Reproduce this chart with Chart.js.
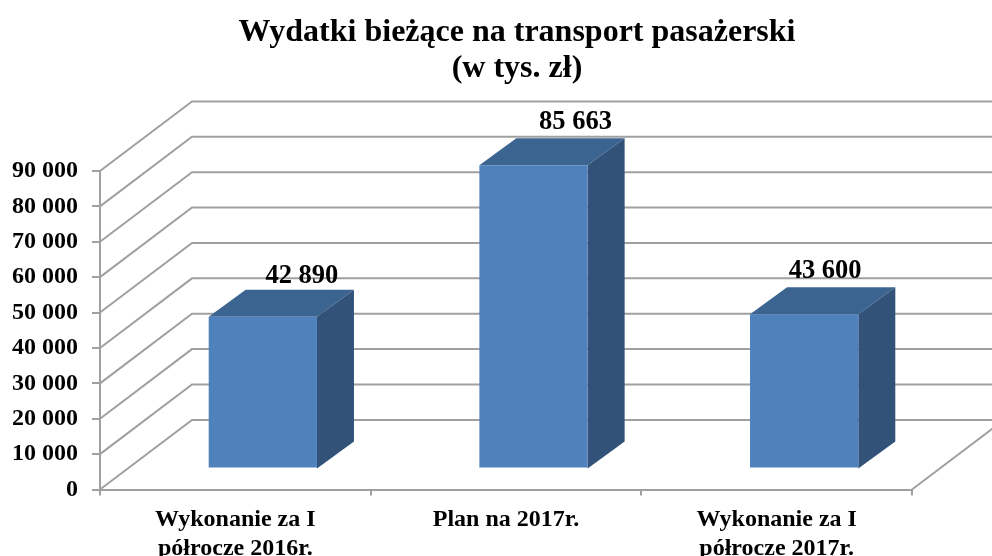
<!DOCTYPE html>
<html><head><meta charset="utf-8">
<style>html,body{margin:0;padding:0;background:#fff}#wrap{width:992px;height:556px}</style>
<script src="https://cdn.jsdelivr.net/npm/chart.js@4"></script></head>
<body><div id="wrap"><canvas id="c" width="992" height="556"></canvas></div>
<script>
const categories = [["Wykonanie za I","półrocze 2016r."],"Plan na 2017r.",["Wykonanie za I","półrocze 2017r."]];
const values = [42890, 85663, 43600];
const valueLabels = ["42 890","85 663","43 600"];
const tickLabels = ["0","10 000","20 000","30 000","40 000","50 000","60 000","70 000","80 000","90 000"];
const titleLines = ["Wydatki bieżące na transport pasażerski","(w tys. zł)"];

const SERIF = "'Liberation Serif','Times New Roman',serif";
const GRID = "#a0a0a0";
const WALL = {dx:92, dy:-69.6};
const INSET = {dx:27.5, dy:-21};
const DEPTH = {dx:37, dy:-27};
const LABEL_SHIFT = [[39,-40.5],[42,-43.5],[21,-43]];

const threeD = {
  id:'threeD',
  afterLayout(chart){
    chart.titleBlock.left = 42; chart.titleBlock.right = 992;
  },
  beforeDatasetsDraw(chart){
    const {ctx, chartArea:a, scales:{y}} = chart;
    ctx.save();
    ctx.strokeStyle = GRID; ctx.lineWidth = 2;
    y.ticks.forEach(t=>{
      const py = y.getPixelForValue(t.value);
      ctx.beginPath();
      ctx.moveTo(a.left, py);
      ctx.lineTo(a.left+WALL.dx, py+WALL.dy);
      ctx.lineTo(chart.width, py+WALL.dy);
      ctx.stroke();
    });
    const p0 = y.getPixelForValue(0);
    ctx.beginPath();
    ctx.moveTo(a.right, p0);
    ctx.lineTo(a.right+WALL.dx, p0+WALL.dy);
    ctx.stroke();
    ctx.restore();
  },
  beforeDatasetDraw(chart){
    const ctx = chart.ctx;
    const meta = chart.getDatasetMeta(0);
    const p0 = chart.scales.y.getPixelForValue(0);
    ctx.save();
    meta.data.forEach(b=>{
      const r = b.x + b.width/2 + INSET.dx, l = b.x - b.width/2 + INSET.dx;
      const top = b.y + INSET.dy, bot = p0 + INSET.dy;
      ctx.fillStyle = "#3c6491";
      ctx.beginPath();
      ctx.moveTo(l,top); ctx.lineTo(l+DEPTH.dx,top+DEPTH.dy);
      ctx.lineTo(r+DEPTH.dx,top+DEPTH.dy); ctx.lineTo(r,top);
      ctx.closePath(); ctx.fill();
      ctx.fillStyle = "#325279";
      ctx.beginPath();
      ctx.moveTo(r,top); ctx.lineTo(r+DEPTH.dx,top+DEPTH.dy);
      ctx.lineTo(r+DEPTH.dx,bot+DEPTH.dy); ctx.lineTo(r,bot);
      ctx.closePath(); ctx.fill();
    });
    ctx.restore();
    ctx.save();
    ctx.translate(INSET.dx, INSET.dy);
  },
  afterDatasetDraw(chart){ chart.ctx.restore(); },
  afterDatasetsDraw(chart){
    const ctx = chart.ctx;
    ctx.save();
    ctx.font = "bold 26.5px "+SERIF;
    ctx.fillStyle = "#000";
    ctx.textAlign = "center"; ctx.textBaseline = "middle";
    chart.getDatasetMeta(0).data.forEach((b,i)=>{
      ctx.fillText(valueLabels[i], b.x+INSET.dx+LABEL_SHIFT[i][0], b.y+INSET.dy+LABEL_SHIFT[i][1]);
    });
    ctx.restore();
  }
};

new Chart(document.getElementById('c'),{
  type:'bar',
  data:{labels:categories,datasets:[{data:values,backgroundColor:"#4f81bd",borderWidth:0,
    barPercentage:0.4,categoryPercentage:1,clip:false}]},
  plugins:[threeD],
  options:{
    responsive:false,animation:false,
    layout:{padding:{left:0,right:80,top:0,bottom:0}},
    plugins:{
      legend:{display:false},tooltip:{enabled:false},
      title:{display:true,text:titleLines,color:"#000",
        font:{family:SERIF,size:32,weight:'bold',lineHeight:1.125},
        padding:{top:15,bottom:84}}
    },
    scales:{
      x:{
        grid:{drawOnChartArea:false,color:GRID,tickColor:GRID,tickLength:6,lineWidth:2},
        border:{color:GRID,width:2},
        ticks:{color:"#000",font:{family:SERIF,size:24,weight:'bold',lineHeight:1.2},padding:10,maxRotation:0,autoSkip:false},
        afterFit(s){s.height=66.5;}
      },
      y:{
        min:0,max:90000,
        grid:{drawOnChartArea:false,color:GRID,tickColor:GRID,tickLength:8,lineWidth:2},
        border:{color:GRID,width:2},
        ticks:{stepSize:10000,color:"#000",autoSkip:false,padding:14,
          font:{family:SERIF,size:24,weight:'bold'},
          callback(v){return tickLabels[Math.round(v/10000)];}},
        afterFit(s){s.width=100;}
      }
    }
  }
});
</script></body></html>
